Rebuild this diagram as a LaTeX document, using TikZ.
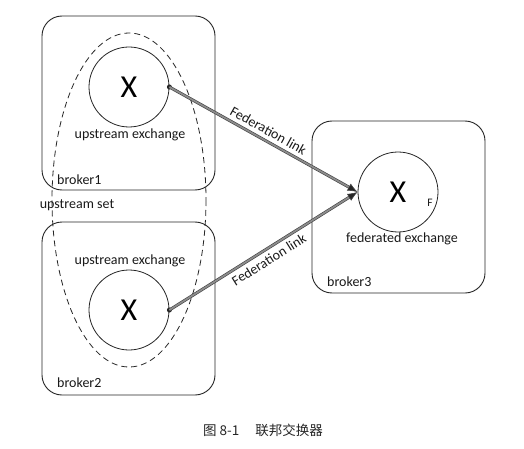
\documentclass[tikz,border=0pt]{standalone}
\usepackage{fontspec}
\setmainfont{Carlito}
\newfontfamily\cjk{Noto Sans CJK SC}
\usetikzlibrary{arrows.meta}
\tikzset{
  x=1pt,y=-1pt,
  broker/.style={draw=black!85,line width=0.9pt,rounded corners=20pt},
  exch/.style={circle,draw=black!85,line width=0.8pt,minimum size=80pt,inner sep=0pt,font=\fontsize{32}{32}\selectfont},
  lbl/.style={font=\fontsize{14}{16}\selectfont,text=black!90,inner sep=1pt},
  fedlink/.style={draw=black!75,line width=0.6pt,double=black!45,double distance=1.8pt,
     -{Latex[length=10pt,width=8pt,fill=black!85]}},
  dot/.style={circle,fill=black!85,inner sep=0pt,minimum size=5pt},
}
\begin{document}
\begin{tikzpicture}
\useasboundingbox (0,0) rectangle (524,449);
\fill[white] (0,0) rectangle (524,449);
% brokers
\draw[broker] (42,16) rectangle (215,190);
\draw[broker] (42,222) rectangle (215,395);
\draw[broker] (312,121) rectangle (485,293);
% upstream set
\draw[black!85,line width=0.8pt,dash pattern=on 6pt off 4pt] (129,200) ellipse [x radius=77,y radius=167];
% exchanges
\node[exch] (u1) at (129,87) {X};
\node[exch] (u2) at (129,310) {X};
\node[exch] (f) at (398,192) {X};
\node[lbl,font=\fontsize{11.5}{12}\selectfont] (fl) at (430,203) {F};
% labels
\node[lbl] (u1l) at (130,135) {upstream exchange};
\node[lbl] (u2l) at (130,261) {upstream exchange};
\node[lbl] (fexl) at (402,239) {federated exchange};
\node[lbl,anchor=west] (b1) at (56,180) {broker1};
\node[lbl,anchor=west] (b2) at (56,383) {broker2};
\node[lbl,anchor=west] (b3) at (326,282) {broker3};
\node[lbl] (us) at (77,205) {upstream set};
% links
\node[dot] (d1) at (u1.east) {};
\node[dot] (d2) at (u2.east) {};
\draw[fedlink] (d1.center) -- node[lbl,sloped,above=4pt] {Federation link} (f.west);
\draw[fedlink] (d2.center) -- node[lbl,sloped,below=4pt] {Federation link} (f.west);
% caption
\node[font=\cjk\fontsize{13.5}{15}\selectfont,text=black!85] (cap) at (263,430) {图 8-1\hspace{1.2em}联邦交换器};
\end{tikzpicture}
\end{document}
